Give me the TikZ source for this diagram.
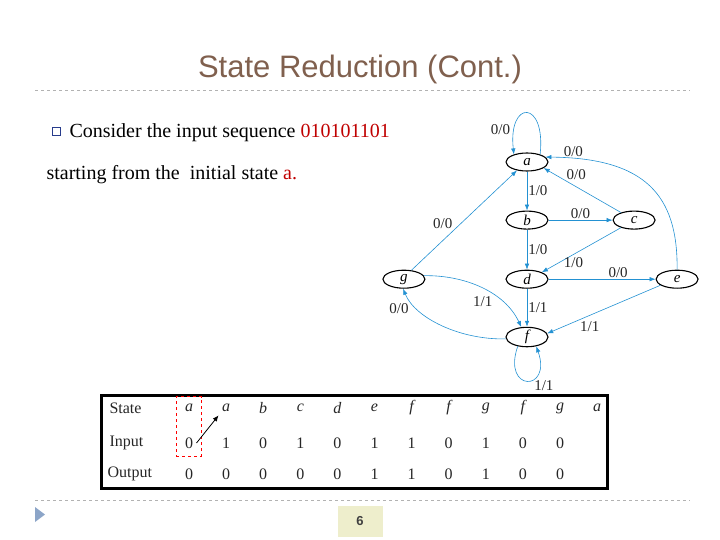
\documentclass[tikz,border=0pt]{standalone}
\usepackage{fontspec}
\setmainfont{Liberation Serif}
\setsansfont{Liberation Sans}
\usetikzlibrary{arrows.meta,positioning,shapes.geometric,fit}

\definecolor{titlebrown}{RGB}{128,96,78}
\definecolor{seqred}{RGB}{192,0,0}
\definecolor{edgeblue}{RGB}{35,145,210}
\definecolor{pagebox}{RGB}{238,238,204}
\definecolor{navtri}{RGB}{140,165,200}
\definecolor{bulletblue}{RGB}{40,60,140}

\begin{document}
\begin{tikzpicture}[x=1pt,y=-1pt,
    state/.style={draw,ellipse,line width=1.1pt,minimum width=42pt,minimum height=18pt,inner sep=0pt,font=\itshape\fontsize{15}{15}\selectfont},
    trans/.style={edgeblue,semithick,-{Latex[length=6pt,width=4.5pt]}},
    lbl/.style={font=\fontsize{15}{15}\selectfont,text=black!85,inner sep=1pt},
    cell/.style={font=\fontsize{16}{16}\selectfont,text=black!85}]

    \useasboundingbox (0,0) rectangle (720,540);

    % Title and rules
    \node [font=\sffamily\fontsize{31}{36}\selectfont, text=titlebrown] (title) at (360,69) {State Reduction (Cont.)};
    \draw [gray!60, dashed] (35,90) -- (690,90);
    \draw [gray!60, dashed] (35,500) -- (690,500);

    % Text lines
    \node [draw=bulletblue, thick, minimum size=8pt, inner sep=0pt] (bullet) at (56,131) {};
    \node [anchor=base west, font=\fontsize{20}{22}\selectfont] (line1) at (66,138) {Consider the input sequence \textcolor{seqred}{010101101}};
    \node [anchor=base west, font=\fontsize{20}{22}\selectfont] (line2) at (43,180) {starting from the \ initial state \textcolor{seqred}{a.}};

    % States
    \node [state] (a) at (527,162) {a};
    \node [state, below=39pt of a] (b) {b};
    \node [state, below=40pt of b] (d) {d};
    \node [state, below=38pt of d] (f) {f};
    \node [state, right=64pt of b] (c) {c};
    \node [state, right=107pt of d] (e) {e};
    \node [state, left=80pt of d] (g) {g};

    % Transitions
    \draw [trans] (a.30) .. controls +(6,-55) and +(-6,-55) .. node [lbl, pos=0.82, left=3pt] {0/0} (a.150);
    \draw [trans] (a) -- node [lbl, right] {1/0} (b);
    \draw [trans] (b) -- node [lbl, above] {0/0} (c);
    \draw [trans] (b) -- node [lbl, right] {1/0} (d);
    \draw [trans] (c.150) -- node [lbl, pos=0.72, above right=0pt] {0/0} (a.-20);
    \draw [trans] (c.210) -- node [lbl, pos=0.6, below=2pt] {1/0} (d.25);
    \draw [trans] (d) -- node [lbl, pos=0.65, above] {0/0} (e);
    \draw [trans] (e.north) .. controls (678,195) and (645,158) .. node [lbl, pos=0.9, above] {0/0} (a.15);
    \draw [trans] (e.200) -- node [lbl, pos=0.72, below right=0pt] {1/1} (f.10);
    \draw [trans] (d) -- node [lbl, right] {1/1} (f);
    \draw [trans] (g.50) -- node [lbl, pos=0.4, above left] {0/0} (a.220);
    \draw [trans] (g.10) .. controls (465,275) and (505,292) .. node [lbl, pos=0.62, below left=0pt] {1/1} (f.120);
    \draw [trans] (f.185) .. controls (460,340) and (415,318) .. node [lbl, pos=0.85, below left=1pt] {0/0} (g.-95);
    \draw [trans] (f.225) .. controls +(-16,46) and +(16,46) .. node [lbl, pos=0.62, below right=0pt] {1/1} (f.-45);

    % Table
    \draw [line width=3pt] (101,395) rectangle (607,488);
    \node [cell, anchor=west] (rstate) at (106,408) {State};
    \node [cell, anchor=west] (rinput) at (106,443) {Input};
    \node [cell, anchor=west] (routput) at (104,474) {Output};
    \foreach \s [count=\i] in {a,a,b,c,d,e,f,f,g,f,g,a}
        \node [cell, font=\itshape\fontsize{16}{16}\selectfont] (s\i) at ({189+37.1*(\i-1)},408) {\s};
    \foreach \v [count=\i] in {0,1,0,1,0,1,1,0,1,0,0}
        \node [cell] (in\i) at ({189+37.1*(\i-1)},443) {\v};
    \foreach \v [count=\i] in {0,0,0,0,0,1,1,0,1,0,0}
        \node [cell] (out\i) at ({189+37.1*(\i-1)},474) {\v};
    \node [draw=red, dashed, thick, inner xsep=5pt, inner ysep=4pt, fit=(s1)(in1)] (first) {};
    \draw [-{Latex[length=6pt,width=5pt]}, thick] (in1.east) -- (s2.south west);

    % Footer
    \fill [navtri] (35,507) -- (45,514.5) -- (35,522) -- cycle;
    \node [fill=pagebox, minimum width=45pt, minimum height=31pt, font=\sffamily\bfseries\fontsize{13}{13}\selectfont, text=black!75] (page) at (360,521) {6};
\end{tikzpicture}
\end{document}
